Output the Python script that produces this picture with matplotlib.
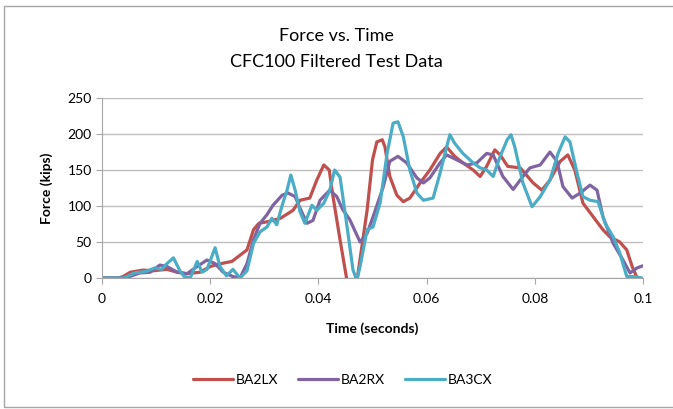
import matplotlib.pyplot as plt
from matplotlib.patches import Rectangle

# Series data (time in seconds, force in kips)
t_ba2lx = [0, 0.003, 0.0039, 0.0052, 0.0076, 0.0094, 0.012, 0.0139, 0.0157, 0.0181,
           0.020, 0.022, 0.024, 0.0268, 0.028, 0.029, 0.0305, 0.033, 0.0353, 0.0366,
           0.0384, 0.0397, 0.041, 0.042, 0.0427, 0.044, 0.0452, 0.046, 0.0471, 0.049,
           0.050, 0.0508, 0.0518, 0.0523, 0.0532, 0.0545, 0.0557, 0.0569, 0.0588, 0.0606,
           0.0625, 0.0637, 0.0652, 0.0667, 0.0686, 0.0699, 0.0711, 0.0726, 0.0736, 0.075,
           0.0773, 0.0797, 0.0813, 0.0828, 0.0847, 0.0861, 0.0874, 0.0889, 0.0908, 0.0926,
           0.0939, 0.0957, 0.097, 0.098, 0.0995]
f_ba2lx = [0, 0, 2, 8, 11, 10, 12, 8, 6, 8,
           16, 20, 23, 39, 67, 76, 78, 83, 94, 108,
           111, 136, 157, 150, 113, 53, 0, -20, -5, 94,
           164, 189, 192, 182, 141, 115, 106, 111, 132, 150,
           173, 182, 169, 160, 150, 141, 155, 178, 171, 155,
           153, 132, 122, 136, 162, 171, 150, 104, 85, 67,
           57, 50, 39, 16, -10]

t_ba2rx = [0, 0.0043, 0.007, 0.0089, 0.0107, 0.012, 0.0139, 0.0157, 0.0176, 0.0194,
           0.0209, 0.0224, 0.0242, 0.0255, 0.0268, 0.028, 0.0292, 0.0305, 0.0316, 0.0333,
           0.0344, 0.0357, 0.0366, 0.0379, 0.039, 0.0403, 0.0421, 0.0434, 0.0445, 0.0458,
           0.0477, 0.049, 0.0501, 0.052, 0.0532, 0.0547, 0.0563, 0.0582, 0.0594, 0.0606,
           0.0625, 0.0637, 0.0656, 0.0675, 0.0693, 0.0711, 0.0723, 0.0741, 0.076, 0.0778,
           0.0791, 0.081, 0.0828, 0.0841, 0.0852, 0.0869, 0.0884, 0.0902, 0.0915, 0.0926,
           0.0945, 0.0963, 0.0976, 0.0989, 0.1]
f_ba2rx = [0, 0, 7, 8, 18, 16, 8, 6, 16, 25,
           20, 8, 2, 0, 20, 53, 76, 88, 101, 115,
           118, 113, 97, 76, 80, 108, 122, 113, 95, 81,
           50, 62, 85, 127, 162, 169, 160, 139, 132, 139,
           160, 171, 164, 157, 160, 173, 171, 141, 123, 141,
           153, 157, 175, 162, 127, 111, 118, 129, 122, 85,
           48, 25, 7, 14, 17]

t_ba3cx = [0, 0.004, 0.006, 0.008, 0.0098, 0.011, 0.012, 0.0132, 0.0144, 0.0152,
           0.0163, 0.0176, 0.0185, 0.0194, 0.0209, 0.0218, 0.023, 0.0242, 0.0255, 0.0268,
           0.028, 0.0292, 0.0305, 0.0314, 0.0323, 0.0333, 0.0342, 0.0349, 0.0357, 0.0366,
           0.0375, 0.0388, 0.0397, 0.041, 0.0421, 0.043, 0.044, 0.0453, 0.0464, 0.0471,
           0.0477, 0.049, 0.0501, 0.0514, 0.0527, 0.0538, 0.0547, 0.0557, 0.0569, 0.0582,
           0.0594, 0.0612, 0.0625, 0.0637, 0.0643, 0.0652, 0.0667, 0.0686, 0.0699, 0.0711,
           0.0723, 0.0736, 0.0749, 0.0756, 0.0763, 0.0778, 0.0795, 0.081, 0.0828, 0.0843,
           0.0856, 0.0865, 0.0878, 0.0889, 0.0902, 0.0917, 0.093, 0.0945, 0.0957, 0.097,
           0.0982, 0.0998]
f_ba3cx = [0, 0, 7, 9, 14, 12, 20, 28, 10, 2,
           0, 23, 8, 12, 42, 16, 3, 12, 0, 10,
           48, 64, 71, 83, 74, 101, 122, 143, 122, 92,
           76, 101, 94, 104, 122, 150, 140, 71, 11, -3,
           16, 67, 71, 104, 173, 215, 217, 196, 150, 118,
           108, 111, 146, 182, 199, 187, 173, 160, 153, 150,
           141, 169, 192, 199, 182, 132, 99, 113, 136, 173,
           196, 189, 146, 113, 108, 106, 76, 57, 35, 2,
           2, 0]

series_names = ['BA2LX', 'BA2RX', 'BA3CX']
series_colors = ['#C0504D', '#8064A2', '#4BACC6']
x_ticks = [0, 0.02, 0.04, 0.06, 0.08, 0.1]
x_labels = ['0', '0.02', '0.04', '0.06', '0.08', '0.1']
y_ticks = [0, 50, 100, 150, 200, 250]

plt.rcParams['font.family'] = ['Lato', 'DejaVu Sans']

fig = plt.figure(figsize=(6.73, 4.09), dpi=100)
ax = fig.add_axes([0.1516, 0.3203, 0.8038, 0.4401])

# chart border
fig.patches.append(Rectangle((4 / 673, 2 / 409), 1.2, 401 / 409, transform=fig.transFigure,
                             fill=False, edgecolor='#A6A6A6', linewidth=1.0))

for t, f, name, c in zip([t_ba2lx, t_ba2rx, t_ba3cx], [f_ba2lx, f_ba2rx, f_ba3cx],
                         series_names, series_colors):
    ax.plot(t, f, color=c, linewidth=2.3, label=name, solid_joinstyle='round',
            solid_capstyle='round')

ax.set_xlim(0, 0.1)
ax.set_ylim(0, 250)
ax.set_xticks(x_ticks)
ax.set_xticklabels(x_labels)
ax.set_yticks(y_ticks)
ax.grid(axis='y', color='#BEBEBE', linewidth=1.0)
ax.set_axisbelow(True)
for side in ['top', 'right']:
    ax.spines[side].set_visible(False)
for side in ['left', 'bottom']:
    ax.spines[side].set_color('#A6A6A6')
ax.tick_params(axis='both', colors='#A6A6A6', labelcolor='#000000', labelsize=10,
               length=4, direction='out')
ax.tick_params(axis='x', pad=7)

ax.set_xlabel('Time (seconds)', fontsize=10, fontweight='bold', labelpad=12)
ax.set_ylabel('Force (kips)', fontsize=10, fontweight='bold', labelpad=10)

fig.text(0.5, 1 - 36 / 409, 'Force vs. Time', ha='center', va='center', fontsize=13)
fig.text(0.5, 1 - 62 / 409, 'CFC100 Filtered Test Data', ha='center', va='center', fontsize=13)

ax.legend(loc='center', bbox_to_anchor=(0.445, -0.567), ncol=3, frameon=False, fontsize=10,
          handlelength=2.9, handletextpad=0.2, columnspacing=1.4)

fig.savefig('out.png', dpi=100)
